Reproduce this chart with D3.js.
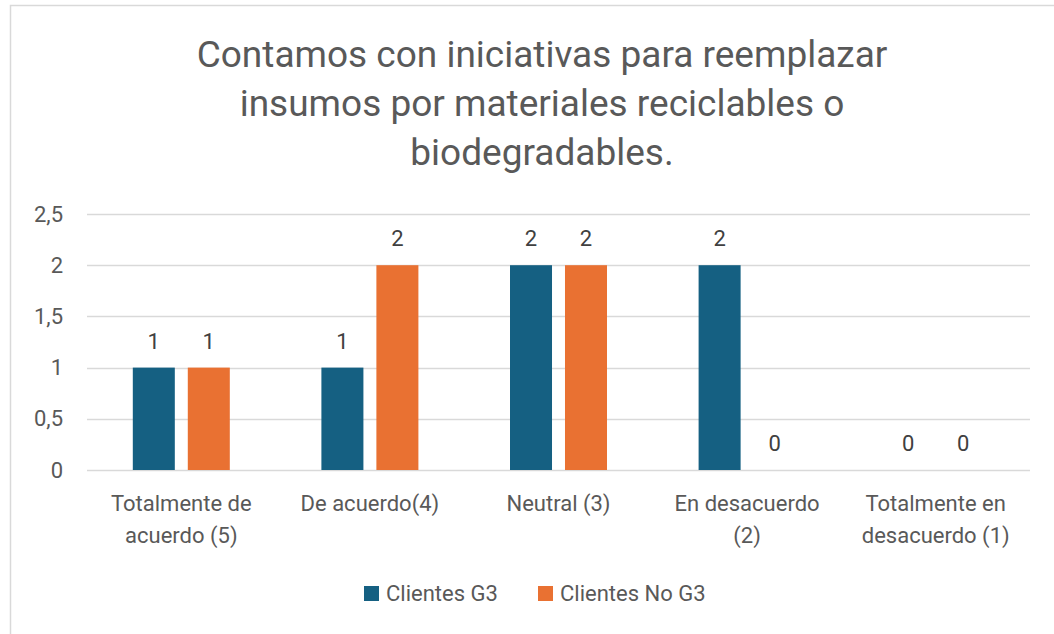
<!DOCTYPE html>
<html>
<head>
<meta charset="utf-8">
<script src="https://cdn.jsdelivr.net/npm/d3@7"></script>
<style>
  body { margin: 0; background: #fff; }
  svg { font-family: Roboto, "Open Sans", sans-serif; }
</style>
</head>
<body>
<div id="chart"></div>
<script>
  var titleLines = ['Contamos con iniciativas para reemplazar', 'insumos por materiales reciclables o', 'biodegradables.'];
  var categories = [['Totalmente de', 'acuerdo (5)'], ['De acuerdo(4)'], ['Neutral (3)'], ['En desacuerdo', '(2)'], ['Totalmente en', 'desacuerdo (1)']];
  var seriesNames = ['Clientes G3', 'Clientes No G3'];
  var clientesG3 = [1, 1, 2, 2, 0];
  var clientesNoG3 = [1, 2, 2, 0, 0];
  var yTicks = [0, 0.5, 1, 1.5, 2, 2.5];
  var colors = ['#156082', '#E97132'];

(function() {
  'use strict';

  var width = 1054, height = 634;
  var plotLeft = 87, plotRight = 1030, plotTop = 214, plotBottom = 470;

  var svg = d3.select('#chart').append('svg').attr('width', width).attr('height', height);

  svg.append('rect').attr('x', 10.5).attr('y', 5.5).attr('width', width).attr('height', height)
    .attr('fill', '#fff').attr('stroke', '#d9d9d9').attr('stroke-width', 1.5);

  // title
  svg.append('g').selectAll('text').data(titleLines).enter().append('text')
    .attr('x', 542).attr('y', function(d, i) { return 67 + i * 49; })
    .attr('text-anchor', 'middle').style('font-size', '37px').attr('fill', '#595959')
    .text(function(d) { return d; });

  var x = d3.scaleBand().domain(d3.range(categories.length)).range([plotLeft, plotRight]);
  var xs = d3.scaleBand().domain([0, 1]).range([-48.5, 48.5]).paddingInner(0.236);
  var y = d3.scaleLinear().domain([0, 2.5]).range([plotBottom, plotTop]);

  // gridlines
  svg.append('g').selectAll('line').data(yTicks).enter().append('line')
    .attr('x1', plotLeft).attr('x2', plotRight)
    .attr('y1', function(d) { return Math.round(y(d)) + 0.5; })
    .attr('y2', function(d) { return Math.round(y(d)) + 0.5; })
    .attr('stroke', '#d9d9d9').attr('stroke-width', 1.5);

  var fmt = function(d) { return String(d).replace('.', ','); };
  var yAxis = svg.append('g').attr('transform', 'translate(' + (plotLeft - 24) + ',0)')
    .call(d3.axisLeft(y).tickValues(yTicks).tickFormat(fmt).tickSize(0).tickPadding(0));
  yAxis.select('.domain').remove();
  yAxis.selectAll('text').style('font-size', '22px').attr('fill', '#595959').attr('font-family', 'Roboto, sans-serif');

  var series = [clientesG3, clientesNoG3];
  series.forEach(function(vals, s) {
    var g = svg.append('g');
    g.selectAll('rect').data(vals).enter().append('rect')
      .attr('x', function(d, i) { return x(i) + x.bandwidth() / 2 + xs(s); })
      .attr('y', function(d) { return y(d); })
      .attr('width', xs.bandwidth())
      .attr('height', function(d) { return y(0) - y(d); })
      .attr('fill', colors[s]);
    g.selectAll('text').data(vals).enter().append('text')
      .attr('x', function(d, i) { return x(i) + x.bandwidth() / 2 + xs(s) + xs.bandwidth() / 2; })
      .attr('y', function(d) { return y(d) - 19; })
      .attr('text-anchor', 'middle').style('font-size', '22px').attr('fill', '#404040')
      .text(function(d) { return d; });
  });

  // category labels
  var cat = svg.append('g').selectAll('text').data(categories).enter().append('text')
    .attr('text-anchor', 'middle').style('font-size', '22px').attr('fill', '#595959')
    .attr('x', function(d, i) { return x(i) + x.bandwidth() / 2; });
  cat.selectAll('tspan').data(function(d) { return d; }).enter().append('tspan')
    .attr('x', function() { return d3.select(this.parentNode).attr('x'); })
    .attr('y', function(d, i) { return 511 + i * 32; })
    .text(function(d) { return d; });

  // legend
  var legendX = [364, 538];
  var lg = svg.append('g').selectAll('g').data(seriesNames).enter().append('g')
    .attr('transform', function(d, i) { return 'translate(' + legendX[i] + ',586)'; });
  lg.append('rect').attr('width', 15).attr('height', 15).attr('fill', function(d, i) { return colors[i]; });
  lg.append('text').attr('x', 22).attr('y', 15).style('font-size', '22px').attr('fill', '#595959')
    .text(function(d) { return d; });
}).call(this);
</script>
</body>
</html>
